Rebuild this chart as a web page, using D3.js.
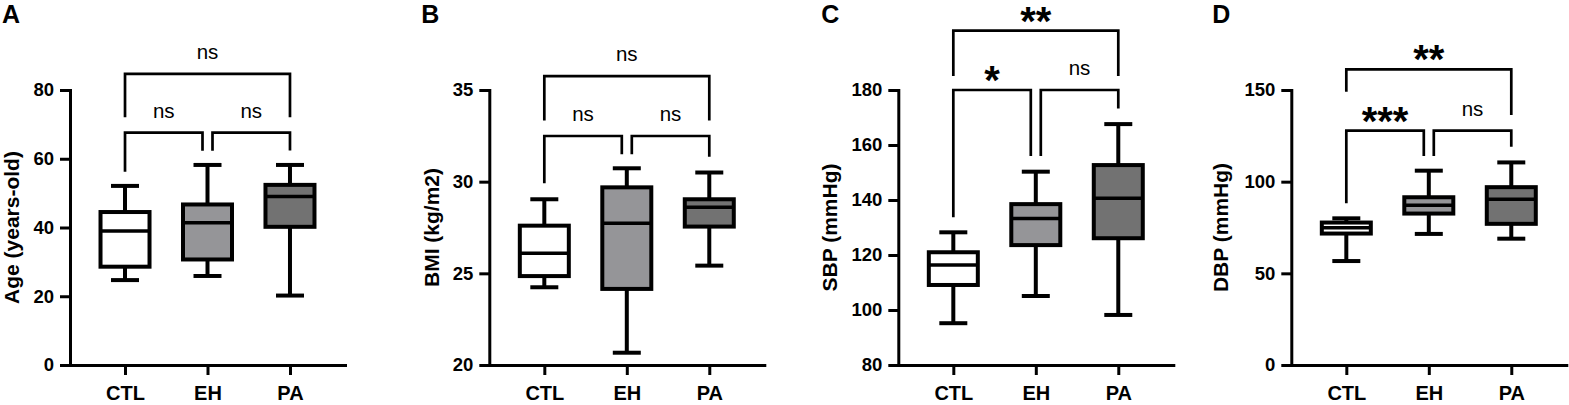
<!DOCTYPE html>
<html>
<head>
<meta charset="utf-8">
<script src="https://cdn.jsdelivr.net/npm/d3@7"></script>
<style>
  body { margin: 0; background: #fff; }
  text { font-family: "Liberation Sans", Arial, sans-serif; }
</style>
</head>
<body>
<div id="chart"></div>
<script>
// groups shared by every panel
var groups = ["CTL", "EH", "PA"];

// box stats per group: [min, q1, median, q3, max]
var ageStats = [[24.7, 28.6, 39.0, 44.5, 52.1], [25.9, 30.7, 41.4, 46.7, 58.2], [20.2, 40.2, 49.0, 52.4, 58.2]];
var bmiStats = [[24.24, 24.85, 26.1, 27.6, 29.04], [20.67, 24.15, 27.73, 29.69, 30.73], [25.42, 27.55, 28.6, 29.04, 30.5]];
var sbpStats = [[95.2, 109.1, 116.4, 121.0, 128.25], [105.1, 123.6, 133.3, 138.5, 150.3], [98.2, 126.1, 140.6, 152.7, 167.6]];
var dbpStats = [[56.7, 71.7, 74.9, 77.7, 80.0], [71.5, 82.6, 87.1, 91.5, 106.0], [68.9, 77.0, 90.4, 97.0, 110.5]];

// tick labels
var ageTicks = [0, 20, 40, 60, 80];
var bmiTicks = [20, 25, 30, 35];
var sbpTicks = [80, 100, 120, 140, 160, 180];
var dbpTicks = [0, 50, 100, 150];

// significance brackets: group a vs b, bar level, leg ends (data units), label
var ageBrackets = [
  {a: 0, b: 1, y: 67.6, la: 56.2, lb: 62.3, label: "ns"},
  {a: 1, b: 2, y: 67.6, la: 62.3, lb: 62.4, label: "ns"},
  {a: 0, b: 2, y: 84.7, la: 72.1, lb: 72.1, label: "ns"}
];
var bmiBrackets = [
  {a: 0, b: 1, y: 32.49, la: 29.91, lb: 31.5, label: "ns"},
  {a: 1, b: 2, y: 32.49, la: 31.5, lb: 31.36, label: "ns"},
  {a: 0, b: 2, y: 35.76, la: 33.33, lb: 33.33, label: "ns"}
];
var sbpBrackets = [
  {a: 0, b: 1, y: 180, la: 133.7, lb: 156, label: "*"},
  {a: 1, b: 2, y: 180, la: 156, lb: 173.3, label: "ns"},
  {a: 0, b: 2, y: 201.6, la: 185.1, lb: 185.1, label: "**"}
];
var dbpBrackets = [
  {a: 0, b: 1, y: 127.8, la: 88.2, lb: 114, label: "***"},
  {a: 1, b: 2, y: 127.8, la: 114, lb: 119.1, label: "ns"},
  {a: 0, b: 2, y: 161.3, la: 149.1, lb: 136.4, label: "**"}
];

var fills = ["#ffffff", "#959598", "#727272"];

var panels = [
  {letter: "A", title: "Age (years-old)", stats: ageStats, ticks: ageTicks, brackets: ageBrackets, left: 70, titleX: -59, letterX: -68},
  {letter: "B", title: "BMI (kg/m2)", stats: bmiStats, ticks: bmiTicks, brackets: bmiBrackets, left: 489.3, titleX: -58, letterX: -68},
  {letter: "C", title: "SBP (mmHg)", stats: sbpStats, ticks: sbpTicks, brackets: sbpBrackets, left: 898.3, titleX: -69, letterX: -77},
  {letter: "D", title: "DBP (mmHg)", stats: dbpStats, ticks: dbpTicks, brackets: dbpBrackets, left: 1291.3, titleX: -71, letterX: -79}
];

var W = 1569, H = 405;
var plotTop = 90, plotBottom = 365, pw = 275;
var boxW = 49, capW = 28;

var svg = d3.select("#chart").append("svg")
  .attr("width", W).attr("height", H);

panels.forEach(function(p) {
  var g = svg.append("g").attr("transform", "translate(" + p.left + ",0)");
  var x = d3.scalePoint().domain(groups).range([0, pw]).padding(0.667);
  var y = d3.scaleLinear().domain(d3.extent(p.ticks)).range([plotBottom, plotTop]);

  // axes
  var ya = g.append("g")
    .call(d3.axisLeft(y).tickValues(p.ticks).tickSize(10).tickSizeOuter(0).tickPadding(6));
  var xa = g.append("g").attr("transform", "translate(0," + plotBottom + ")")
    .call(d3.axisBottom(x).tickSize(10).tickSizeOuter(0).tickPadding(11));
  [ya, xa].forEach(function(a) {
    a.select(".domain").attr("stroke-width", 3).attr("stroke-linecap", "square");
    a.selectAll(".tick line").attr("stroke-width", 3);
    a.selectAll("text").attr("fill", "#000").attr("font-weight", "bold")
      .style("font-family", "'Liberation Sans', Arial, sans-serif");
  });
  ya.selectAll("text").attr("font-size", 18.5);
  xa.selectAll("text").attr("font-size", 20);

  // y title
  g.append("text")
    .attr("transform", "translate(" + p.titleX + "," + ((plotTop + plotBottom) / 2) + ") rotate(-90)")
    .attr("text-anchor", "middle").attr("dominant-baseline", "central")
    .attr("font-size", 21).attr("font-weight", "bold")
    .text(p.title);

  // panel letter
  g.append("text")
    .attr("x", p.letterX).attr("y", 23)
    .attr("font-size", 25).attr("font-weight", "bold")
    .text(p.letter);

  // boxes
  p.stats.forEach(function(s, i) {
    var cx = x(groups[i]);
    var bx = g.append("g").attr("stroke", "#000").attr("stroke-width", 4);
    bx.append("line").attr("x1", cx).attr("x2", cx).attr("y1", y(s[0])).attr("y2", y(s[4]));
    bx.append("rect")
      .attr("x", cx - boxW / 2).attr("width", boxW)
      .attr("y", y(s[3])).attr("height", y(s[1]) - y(s[3]))
      .attr("fill", fills[i]);
    bx.append("line").attr("x1", cx - boxW / 2).attr("x2", cx + boxW / 2)
      .attr("y1", y(s[2])).attr("y2", y(s[2]))
      .attr("stroke-width", 3.5);
    [s[0], s[4]].forEach(function(v) {
      bx.append("line").attr("x1", cx - capW / 2).attr("x2", cx + capW / 2)
        .attr("y1", y(v)).attr("y2", y(v));
    });
  });

  // brackets
  var shift = function(i) { return i === 1 ? 5 : 0; };
  p.brackets.forEach(function(b) {
    var x1 = x(groups[b.a]) + shift(b.a);
    var x2 = x(groups[b.b]) - shift(b.b);
    g.append("path")
      .attr("d", d3.line()([[x1, y(b.la)], [x1, y(b.y)], [x2, y(b.y)], [x2, y(b.lb)]]))
      .attr("fill", "none").attr("stroke", "#000").attr("stroke-width", 2.7);
    var star = b.label.indexOf("*") >= 0;
    g.append("text")
      .attr("x", (x1 + x2) / 2)
      .attr("y", star ? y(b.y) + 4 : y(b.y) - 15)
      .attr("text-anchor", "middle")
      .attr("font-size", star ? 40 : 20.5)
      .attr("font-weight", star ? "bold" : "normal")
      .text(b.label);
  });
});
</script>
</body>
</html>
